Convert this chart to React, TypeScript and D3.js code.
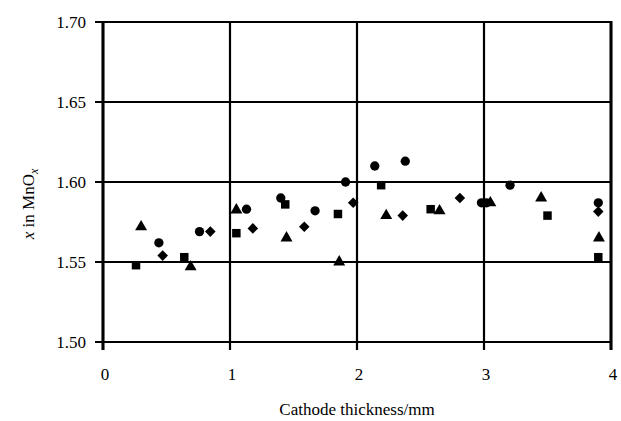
import React from 'react';
import * as d3 from 'd3';

const width = 621;
const height = 421;
const margin = { top: 22, right: 8, bottom: 79, left: 103 };

const xTicks = [0, 1, 2, 3, 4];
const yTicks = [1.5, 1.55, 1.6, 1.65, 1.7];

// each series: [thickness mm, x in MnOx]
const circles: [number, number][] = [
  [0.44, 1.562], [0.76, 1.569], [1.13, 1.583], [1.40, 1.590], [1.67, 1.582],
  [1.91, 1.600], [2.14, 1.610], [2.38, 1.613], [2.98, 1.587], [3.02, 1.587],
  [3.205, 1.598], [3.90, 1.587],
];
const diamonds: [number, number][] = [
  [0.47, 1.554], [0.845, 1.569], [1.18, 1.571], [1.585, 1.572], [1.97, 1.587],
  [2.36, 1.579], [2.81, 1.590], [3.90, 1.5815],
];
const squares: [number, number][] = [
  [0.26, 1.548], [0.64, 1.553], [1.05, 1.568], [1.435, 1.586], [1.85, 1.580],
  [2.19, 1.598], [2.58, 1.583], [3.50, 1.579], [3.90, 1.553],
];
const triangles: [number, number][] = [
  [0.30, 1.572], [0.69, 1.547], [1.05, 1.5825], [1.445, 1.565], [1.86, 1.550],
  [2.23, 1.579], [2.65, 1.582], [3.05, 1.587], [3.45, 1.590], [3.905, 1.565],
];

const font = 'Liberation Serif, Times New Roman, DejaVu Serif, serif';

export default function App() {
  const x = d3.scaleLinear().domain([0, 4]).range([margin.left, width - margin.right - 2]);
  const y = d3.scaleLinear().domain([1.5, 1.7]).range([height - margin.bottom, margin.top]);

  const sym = (type: d3.SymbolType, size: number) => d3.symbol().type(type).size(size)() as string;
  const circlePath = sym(d3.symbolCircle, 68);
  const squarePath = sym(d3.symbolSquare, 72);
  const trianglePath = sym(d3.symbolTriangle, 62);
  const diamondPath = sym(d3.symbolSquare, 56);

  const x0 = x(0), x1 = x(4), yb = y(1.5), yt = y(1.7);

  const marks = (data: [number, number][], path: string, key: string, rot = 0) =>
    data.map((d, i) => (
      <path key={key + i} d={path} transform={`translate(${x(d[0])},${y(d[1])}) rotate(${rot})`} fill="#000" />
    ));

  const txt = { fontFamily: font, fontSize: 17, fill: '#000' };

  return (
    <svg width={width} height={height} style={{ position: 'absolute', left: 0, top: 0, background: '#fff' }}>
      <rect x={0} y={0} width={width} height={height} fill="#fff" />

      {/* grid */}
      {yTicks.map(t => (
        <line key={'gy' + t} x1={x0 - 8} x2={x1} y1={y(t)} y2={y(t)} stroke="#000" strokeWidth={2.2} />
      ))}
      {xTicks.map(t => (
        <line key={'gx' + t} x1={x(t)} x2={x(t)} y1={yt} y2={yb + 8} stroke="#000" strokeWidth={2.2} />
      ))}
      <line x1={x0} x2={x0} y1={yt - 1} y2={yb + 8} stroke="#000" strokeWidth={3} />
      <line x1={x1} x2={x1} y1={yt - 1} y2={yb + 8} stroke="#000" strokeWidth={3} />

      {/* tick labels */}
      {yTicks.map(t => (
        <text key={'ty' + t} x={x0 - 17} y={y(t)} dy="0.35em" textAnchor="end" style={txt}>{t.toFixed(2)}</text>
      ))}
      {xTicks.map(t => (
        <text key={'tx' + t} x={x(t) + 2} y={yb + 38} textAnchor="middle" style={txt}>{t}</text>
      ))}

      {/* axis titles */}
      <text x={(x0 + x1) / 2} y={yb + 73} textAnchor="middle" style={txt}>Cathode thickness/mm</text>
      <text transform={`translate(34,${(yt + yb) / 2 + 22}) rotate(-90)`} textAnchor="middle" style={txt}>
        <tspan fontStyle="italic">x</tspan> in MnO<tspan fontStyle="italic" fontSize={12} dy={4}>x</tspan>
      </text>

      {/* data */}
      {marks(circles, circlePath, 'c')}
      {marks(diamonds, diamondPath, 'd', 45)}
      {marks(squares, squarePath, 's')}
      {marks(triangles, trianglePath, 't')}
    </svg>
  );
}
